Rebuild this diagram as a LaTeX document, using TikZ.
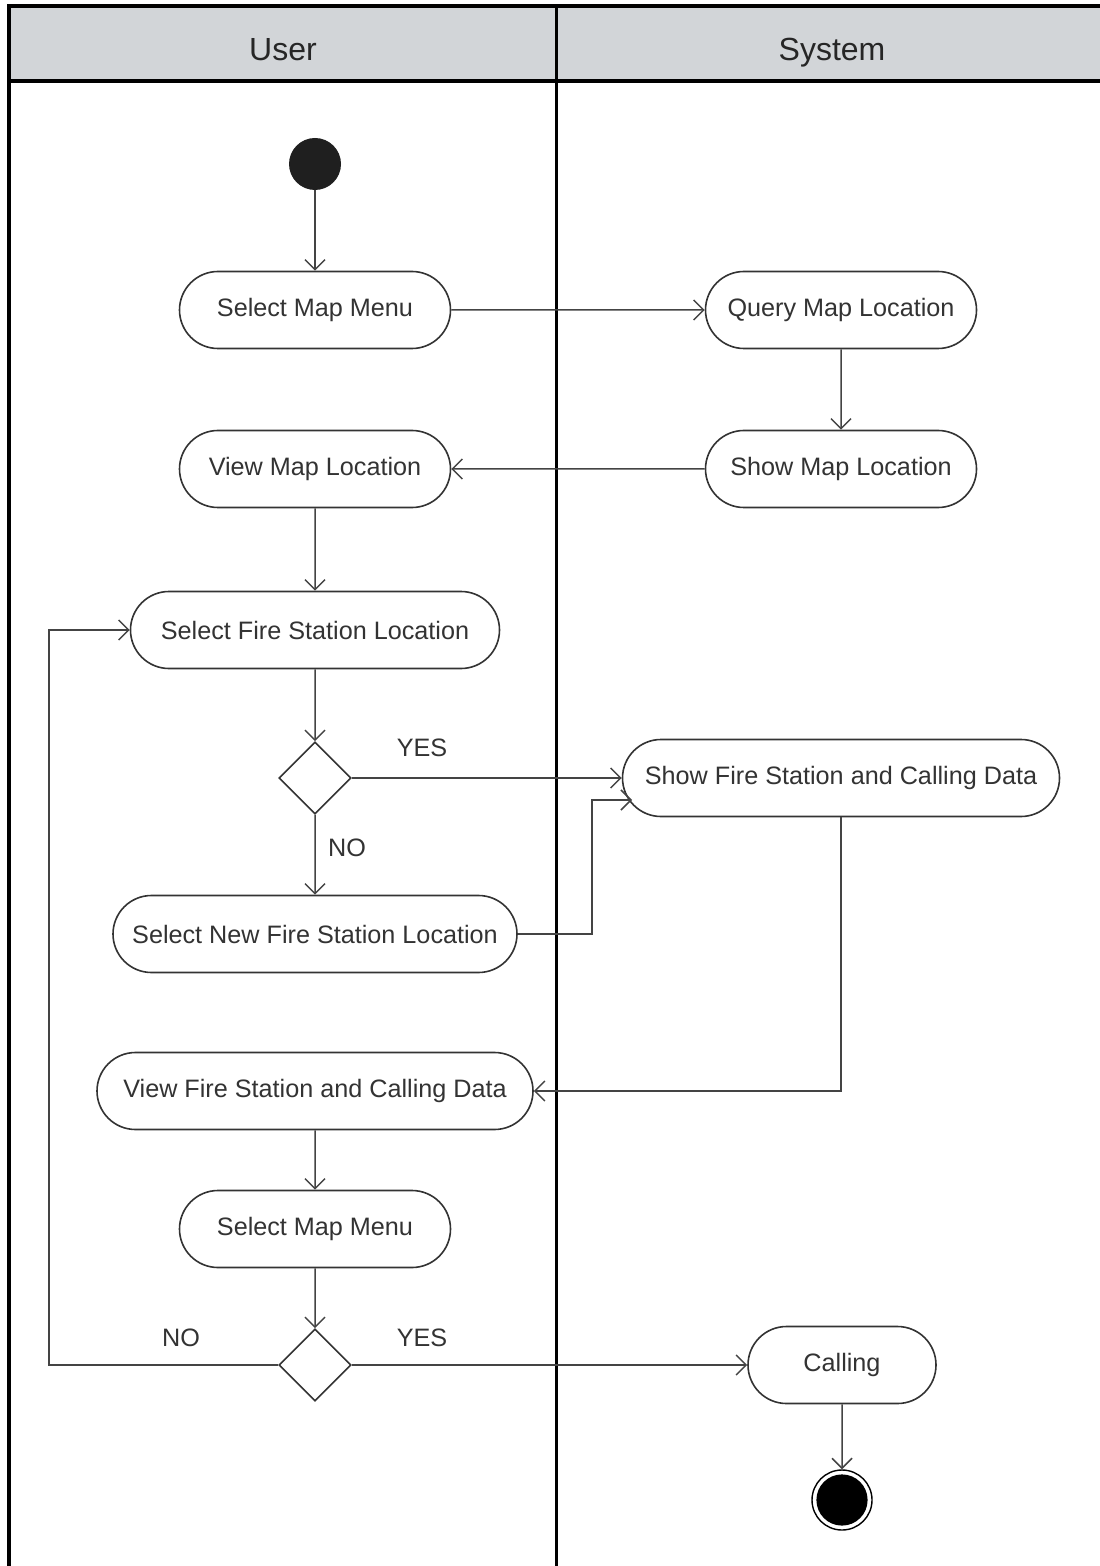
\documentclass[tikz,border=0pt]{standalone}
\usepackage{fontspec}
\setmainfont{Liberation Sans}
\usetikzlibrary{arrows.meta,shapes.misc,shapes.geometric}
\definecolor{headgray}{HTML}{D2D5D8}
\definecolor{inkgray}{HTML}{333333}
\definecolor{wiregray}{HTML}{444444}
\begin{document}
\begin{tikzpicture}[x=0.5pt,y=-0.5pt,
  action/.style={rounded rectangle, draw=inkgray, line width=0.8pt, fill=white,
    minimum height=38.5pt, inner sep=0pt, font=\fontsize{12.6}{14}\selectfont, text=black!80},
  decision/.style={diamond, draw=inkgray, line width=0.8pt, fill=white,
    minimum width=36pt, minimum height=36pt, inner sep=0pt},
  flow/.style={draw=wiregray, line width=0.75pt, -{Straight Barb[length=5pt,width=10pt]}},
  guard/.style={font=\fontsize{12.6}{14}\selectfont, text=black!80},
  lanehead/.style={anchor=base, font=\fontsize{16}{18}\selectfont, text=black!85},
  lane/.style={line width=1.8pt, black}]
\useasboundingbox (0,0) rectangle (1099,1566);

% swimlane frame
\fill[headgray] (9,6) rectangle (1110,80);
\draw[lane] (1110,6) -- (9,6) -- (9,1580);
\draw[lane] (9,81) -- (1110,81);
\draw[line width=1.5pt, black] (556,6) -- (556,1580);
\node[lanehead] (hUser) at (283,61) {User};
\node[lanehead] (hSystem) at (832,61) {System};

% activity nodes
\node[circle, fill=black!88, minimum size=26pt, inner sep=0pt] (start) at (315,164) {};
\node[action, minimum width=135.5pt] (smm1) at (315,310) {Select Map Menu};
\node[action, minimum width=135.5pt] (qml) at (841,310) {Query Map Location};
\node[action, minimum width=135.5pt] (sml) at (841,469) {Show Map Location};
\node[action, minimum width=135.5pt] (vml) at (315,469) {View Map Location};
\node[action, minimum width=184.5pt] (sfsl) at (315,630) {Select Fire Station Location};
\node[decision] (d1) at (315,778) {};
\node[action, minimum width=218.5pt] (sfscd) at (841,778) {Show Fire Station and Calling Data};
\node[action, minimum width=202pt] (snfsl) at (315,934) {Select New Fire Station Location};
\node[action, minimum width=218pt] (vfscd) at (315,1091) {View Fire Station and Calling Data};
\node[action, minimum width=135.5pt] (smm2) at (315,1229) {Select Map Menu};
\node[decision] (d2) at (315,1365) {};
\node[action, minimum width=94pt] (call) at (842,1365) {Calling};
\node[circle, draw=black, line width=0.7pt, minimum size=30pt, inner sep=0pt] (stop) at (842,1500) {};
\fill[black] (stop.center) circle (12.8pt);

% guard labels
\node[guard] (gyes1) at (422,748) {YES};
\node[guard] (gno1) at (347,848) {NO};
\node[guard] (gno2) at (181,1338) {NO};
\node[guard] (gyes2) at (422,1338) {YES};

% helper points
\coordinate (loop) at (49,1000);
\coordinate (bend) at (592,800);
\coordinate (entry) at (632,800);

% control flow
\draw[flow] (start) -- (smm1);
\draw[flow] (smm1) -- (qml);
\draw[flow] (qml) -- (sml);
\draw[flow] (sml) -- (vml);
\draw[flow] (vml) -- (sfsl);
\draw[flow] (sfsl) -- (d1);
\draw[flow] (d1) -- (sfscd);
\draw[flow] (d1) -- (snfsl);
\draw[flow] (snfsl.east) -| (bend) -- (entry);
\draw[flow] (sfscd.south) |- (vfscd.east);
\draw[flow] (vfscd) -- (smm2);
\draw[flow] (smm2) -- (d2);
\draw[flow] (d2.west) -- (d2.west -| loop) -- (loop |- sfsl.west) -- (sfsl.west);
\draw[flow] (d2) -- (call);
\draw[flow] (call) -- (stop);
\end{tikzpicture}
\end{document}
